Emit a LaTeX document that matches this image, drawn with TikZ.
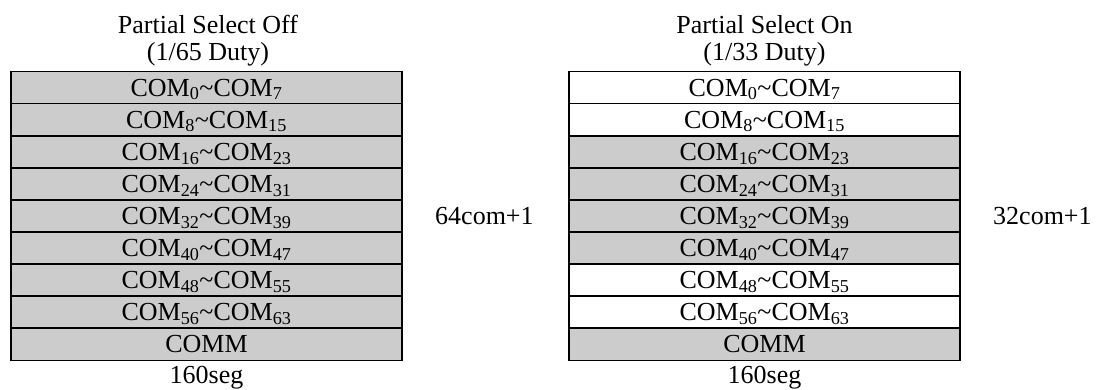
\documentclass[tikz,border=0pt]{standalone}
\usepackage{fontspec}
\setmainfont{Liberation Serif}
\usetikzlibrary{positioning}
\definecolor{cellgray}{RGB}{204,204,204}
\newcommand{\cm}[2]{COM\textsubscript{#1}\textasciitilde COM\textsubscript{#2}}
\begin{document}
\begin{tikzpicture}[x=1pt,y=-1pt,
  every node/.style={font=\fontsize{26}{26}\selectfont},
  rowbox/.style={draw=black,line width=1.8pt,minimum width=391pt,minimum height=32.1pt,inner sep=0pt,outer sep=0pt,anchor=north,text height=17.2pt,text depth=0pt},
  graycell/.style={rowbox,fill=cellgray},
  whitecell/.style={rowbox,fill=white},
  lbl/.style={inner sep=0pt,anchor=base}]
\useasboundingbox (0,0) rectangle (1108,390);
% left table
\node[lbl] (lt1) at (208,34) {Partial Select Off};
\node[lbl] (lt2) at (208,60.5) {(1/65 Duty)};
\node[graycell] (L0) at (206.5,71.5) {\cm{0}{7}};
\node[graycell,below=0pt of L0] (L1) {\cm{8}{15}};
\node[graycell,below=0pt of L1] (L2) {\cm{16}{23}};
\node[graycell,below=0pt of L2] (L3) {\cm{24}{31}};
\node[graycell,below=0pt of L3] (L4) {\cm{32}{39}};
\node[graycell,below=0pt of L4] (L5) {\cm{40}{47}};
\node[graycell,below=0pt of L5] (L6) {\cm{48}{55}};
\node[graycell,below=0pt of L6] (L7) {\cm{56}{63}};
\node[graycell,below=0pt of L7] (L8) {COMM};
\node[lbl] (lb) at (206.5,383) {160seg};
\node[lbl,anchor=base west] (lc) at (435,225) {64com+1};
% right table
\node[lbl] (rt1) at (764.5,34) {Partial Select On};
\node[lbl] (rt2) at (764.5,60.5) {(1/33 Duty)};
\node[whitecell] (R0) at (764.5,71.5) {\cm{0}{7}};
\node[whitecell,below=0pt of R0] (R1) {\cm{8}{15}};
\node[graycell,below=0pt of R1] (R2) {\cm{16}{23}};
\node[graycell,below=0pt of R2] (R3) {\cm{24}{31}};
\node[graycell,below=0pt of R3] (R4) {\cm{32}{39}};
\node[graycell,below=0pt of R4] (R5) {\cm{40}{47}};
\node[whitecell,below=0pt of R5] (R6) {\cm{48}{55}};
\node[whitecell,below=0pt of R6] (R7) {\cm{56}{63}};
\node[graycell,below=0pt of R7] (R8) {COMM};
\node[lbl] (rb) at (764.5,383) {160seg};
\node[lbl,anchor=base west] (rc) at (993,225) {32com+1};
\end{tikzpicture}
\end{document}
